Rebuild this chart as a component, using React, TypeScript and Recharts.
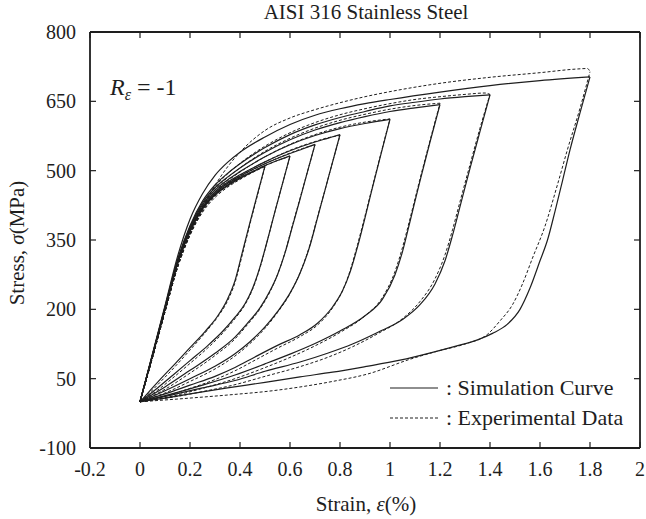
import { LineChart, Line, XAxis, YAxis, ReferenceLine } from 'recharts';

type Pt = [number, number];

// strain (%), stress (MPa)
// upper (loading) branches, simulation
const sim05Up: Pt[] = [[0, 0], [0.05, 100], [0.1, 200], [0.15, 298], [0.2, 368], [0.25, 417], [0.3, 447], [0.35, 467], [0.4, 483], [0.45, 497], [0.5, 510]];
const sim06Up: Pt[] = [[0, 0], [0.05, 100], [0.1, 200], [0.15, 299], [0.2, 369], [0.25, 418], [0.3, 449], [0.35, 469], [0.4, 485], [0.45, 498], [0.5, 511], [0.55, 522], [0.6, 532]];
const sim07Up: Pt[] = [[0, 0], [0.05, 100], [0.1, 201], [0.15, 300], [0.2, 370], [0.25, 420], [0.3, 451], [0.35, 472], [0.4, 488], [0.5, 515], [0.6, 537], [0.65, 547], [0.7, 557]];
const sim08Up: Pt[] = [[0, 0], [0.05, 101], [0.1, 202], [0.15, 301], [0.2, 372], [0.25, 422], [0.3, 454], [0.35, 475], [0.4, 491], [0.5, 519], [0.6, 543], [0.7, 562], [0.75, 570], [0.8, 578]];
const sim10Up: Pt[] = [[0, 0], [0.05, 101], [0.1, 203], [0.15, 303], [0.2, 375], [0.25, 426], [0.3, 458], [0.35, 480], [0.4, 498], [0.5, 530], [0.6, 556], [0.7, 576], [0.8, 591], [0.9, 602], [1.0, 611]];
const sim12Up: Pt[] = [[0, 0], [0.05, 102], [0.1, 204], [0.15, 305], [0.2, 378], [0.25, 430], [0.3, 463], [0.35, 486], [0.4, 506], [0.5, 540], [0.6, 567], [0.7, 588], [0.8, 604], [0.9, 617], [1.0, 628], [1.1, 636], [1.2, 643]];
const sim14Up: Pt[] = [[0, 0], [0.05, 102], [0.1, 205], [0.15, 307], [0.2, 381], [0.25, 434], [0.3, 469], [0.35, 494], [0.4, 515], [0.5, 550], [0.6, 578], [0.7, 599], [0.8, 615], [0.9, 628], [1.0, 640], [1.1, 648], [1.2, 655], [1.3, 660], [1.4, 664]];
const sim18Up: Pt[] = [[0, 0], [0.05, 104], [0.1, 208], [0.15, 314], [0.2, 395], [0.25, 450], [0.3, 490], [0.35, 518], [0.4, 540], [0.5, 573], [0.6, 600], [0.7, 620], [0.8, 634], [0.9, 645], [1.0, 654], [1.2, 670], [1.4, 684], [1.6, 695], [1.8, 703]];

// lower (unloading) branches, simulation, listed from origin to peak
const sim05Dn: Pt[] = [[0, 0], [0.04, 24], [0.08, 48], [0.14, 82], [0.2, 117], [0.26, 152], [0.31, 185], [0.35, 222], [0.38, 262], [0.41, 325], [0.44, 388], [0.47, 450], [0.5, 510]];
const sim06Dn: Pt[] = [[0, 0], [0.07, 30], [0.13, 57], [0.2, 89], [0.27, 121], [0.33, 152], [0.38, 183], [0.42, 212], [0.45, 245], [0.48, 292], [0.51, 350], [0.54, 412], [0.57, 472], [0.6, 532]];
const sim07Dn: Pt[] = [[0, 0], [0.1, 32], [0.2, 68], [0.3, 105], [0.38, 140], [0.43, 170], [0.48, 203], [0.52, 240], [0.55, 275], [0.58, 322], [0.61, 380], [0.64, 438], [0.67, 498], [0.7, 557]];
const sim08Dn: Pt[] = [[0, 0], [0.1, 24], [0.2, 50], [0.3, 77], [0.38, 104], [0.44, 130], [0.5, 162], [0.55, 195], [0.6, 235], [0.64, 278], [0.68, 338], [0.71, 398], [0.74, 458], [0.77, 518], [0.8, 578]];
const sim10Dn: Pt[] = [[0, 0], [0.1, 17], [0.2, 36], [0.3, 55], [0.38, 74], [0.46, 97], [0.55, 122], [0.64, 145], [0.71, 170], [0.77, 205], [0.81, 240], [0.84, 280], [0.87, 335], [0.9, 398], [0.93, 464], [0.965, 538], [1.0, 611]];
const sim12Dn: Pt[] = [[0, 0], [0.12, 16], [0.25, 36], [0.38, 58], [0.5, 82], [0.6, 103], [0.7, 126], [0.8, 153], [0.9, 186], [0.97, 222], [1.02, 275], [1.05, 325], [1.08, 390], [1.12, 478], [1.16, 562], [1.2, 643]];
const sim14Dn: Pt[] = [[0, 0], [0.12, 14], [0.25, 30], [0.38, 46], [0.5, 66], [0.64, 86], [0.75, 105], [0.85, 125], [0.95, 150], [1.05, 178], [1.12, 210], [1.18, 255], [1.22, 305], [1.25, 360], [1.28, 422], [1.32, 505], [1.36, 585], [1.4, 664]];
const sim18Dn: Pt[] = [[0, 0], [0.1, 8], [0.2, 17], [0.35, 30], [0.5, 42], [0.64, 54], [0.77, 64], [0.9, 76], [1.04, 90], [1.17, 107], [1.26, 120], [1.35, 134], [1.41, 148], [1.47, 168], [1.52, 200], [1.56, 246], [1.6, 305], [1.63, 350], [1.66, 412], [1.69, 478], [1.72, 545], [1.76, 625], [1.8, 703]];

// experimental data
const exp05Up: Pt[] = [[0, 0], [0.05, 96], [0.1, 195], [0.15, 290], [0.2, 360], [0.25, 410], [0.3, 442], [0.35, 464], [0.4, 481], [0.45, 496], [0.5, 509]];
const exp06Up: Pt[] = [[0, 0], [0.05, 96], [0.1, 195], [0.15, 291], [0.2, 361], [0.25, 412], [0.3, 445], [0.35, 467], [0.4, 484], [0.45, 498], [0.5, 511], [0.55, 522], [0.6, 531]];
const exp07Up: Pt[] = [[0, 0], [0.05, 97], [0.1, 196], [0.15, 292], [0.2, 363], [0.25, 414], [0.3, 447], [0.35, 470], [0.4, 487], [0.5, 515], [0.6, 538], [0.65, 548], [0.7, 556]];
const exp08Up: Pt[] = [[0, 0], [0.05, 97], [0.1, 196], [0.15, 293], [0.2, 364], [0.25, 416], [0.3, 450], [0.35, 473], [0.4, 490], [0.5, 519], [0.6, 544], [0.7, 563], [0.75, 571], [0.8, 576]];
const exp10Up: Pt[] = [[0, 0], [0.05, 97], [0.1, 197], [0.15, 294], [0.2, 366], [0.25, 419], [0.3, 454], [0.35, 478], [0.4, 497], [0.5, 530], [0.6, 557], [0.7, 578], [0.8, 594], [0.9, 605], [1.0, 612]];
const exp12Up: Pt[] = [[0, 0], [0.05, 97], [0.1, 197], [0.15, 295], [0.2, 368], [0.25, 422], [0.3, 459], [0.35, 485], [0.4, 506], [0.5, 542], [0.6, 570], [0.7, 592], [0.8, 609], [0.9, 622], [1.0, 633], [1.1, 641], [1.2, 646]];
const exp14Up: Pt[] = [[0, 0], [0.05, 97], [0.1, 198], [0.15, 296], [0.2, 370], [0.25, 426], [0.3, 465], [0.35, 493], [0.4, 516], [0.5, 553], [0.6, 582], [0.7, 604], [0.8, 621], [0.9, 634], [1.0, 645], [1.1, 654], [1.2, 660], [1.3, 665], [1.38, 668], [1.4, 665]];
const exp18Up: Pt[] = [[0, 0], [0.05, 95], [0.1, 194], [0.15, 290], [0.2, 362], [0.25, 420], [0.3, 468], [0.35, 508], [0.4, 540], [0.5, 587], [0.6, 614], [0.7, 632], [0.8, 647], [0.9, 660], [1.0, 671], [1.2, 689], [1.4, 702], [1.6, 712], [1.75, 720], [1.79, 721], [1.8, 714]];

const exp05Dn: Pt[] = [[0, 0], [0.04, 20], [0.08, 42], [0.14, 76], [0.2, 112], [0.26, 149], [0.31, 183], [0.35, 218], [0.38, 258], [0.41, 320], [0.44, 385], [0.47, 447], [0.5, 509]];
const exp06Dn: Pt[] = [[0, 0], [0.07, 25], [0.13, 51], [0.2, 83], [0.27, 116], [0.33, 148], [0.38, 180], [0.42, 210], [0.45, 243], [0.48, 290], [0.51, 350], [0.54, 412], [0.57, 472], [0.6, 531]];
const exp07Dn: Pt[] = [[0, 0], [0.1, 27], [0.2, 62], [0.3, 100], [0.38, 136], [0.43, 167], [0.48, 201], [0.52, 238], [0.55, 275], [0.58, 323], [0.61, 382], [0.64, 440], [0.67, 498], [0.7, 556]];
const exp08Dn: Pt[] = [[0, 0], [0.1, 19], [0.2, 44], [0.3, 71], [0.38, 99], [0.44, 126], [0.5, 159], [0.55, 193], [0.6, 234], [0.64, 279], [0.68, 340], [0.71, 400], [0.74, 458], [0.77, 518], [0.8, 576]];
const exp10Dn: Pt[] = [[0, 0], [0.1, 12], [0.2, 29], [0.3, 48], [0.38, 67], [0.46, 90], [0.55, 116], [0.64, 141], [0.71, 166], [0.77, 203], [0.81, 240], [0.84, 283], [0.87, 340], [0.9, 402], [0.93, 466], [0.965, 540], [1.0, 612]];
const exp12Dn: Pt[] = [[0, 0], [0.12, 11], [0.25, 29], [0.38, 50], [0.5, 74], [0.6, 96], [0.7, 121], [0.8, 150], [0.9, 186], [0.97, 226], [1.02, 282], [1.05, 334], [1.08, 396], [1.12, 482], [1.16, 565], [1.2, 646]];
const exp14Dn: Pt[] = [[0, 0], [0.12, 9], [0.25, 22], [0.38, 37], [0.5, 55], [0.64, 76], [0.75, 96], [0.85, 119], [0.95, 147], [1.05, 180], [1.12, 217], [1.18, 266], [1.22, 318], [1.25, 372], [1.28, 433], [1.32, 513], [1.36, 592], [1.4, 665]];
const exp18Dn: Pt[] = [[0, 0], [0.2, 8], [0.38, 16], [0.5, 22], [0.64, 32], [0.78, 45], [0.91, 60], [1.08, 92], [1.2, 111], [1.3, 125], [1.39, 146], [1.44, 175], [1.49, 210], [1.53, 255], [1.57, 311], [1.62, 380], [1.67, 470], [1.71, 546], [1.76, 635], [1.8, 714]];

const xTicks = [-0.2, 0, 0.2, 0.4, 0.6, 0.8, 1, 1.2, 1.4, 1.6, 1.8, 2];
const yTicks = [-100, 50, 200, 350, 500, 650, 800];

const simCurves = [sim05Up, sim06Up, sim07Up, sim08Up, sim10Up, sim12Up, sim14Up, sim18Up, sim05Dn, sim06Dn, sim07Dn, sim08Dn, sim10Dn, sim12Dn, sim14Dn, sim18Dn];
const expCurves = [exp05Up, exp06Up, exp07Up, exp08Up, exp10Up, exp12Up, exp14Up, exp18Up, exp05Dn, exp06Dn, exp07Dn, exp08Dn, exp10Dn, exp12Dn, exp14Dn, exp18Dn];

const toRows = (pts: Pt[]) => pts.map(([e, s]) => ({ e, s }));

const W = 646;
const H = 519;
const PLOT = { left: 90, right: 640, top: 32, bottom: 448 };
const INK = '#1e1e1e';
const serif = { fontFamily: "'Liberation Serif', 'DejaVu Serif', serif" };

// eslint-disable-next-line @typescript-eslint/no-explicit-any
function XTick({ x, payload }: any) {
  return (
    <g>
      <line x1={x} y1={PLOT.bottom} x2={x} y2={PLOT.bottom - 6} stroke={INK} strokeWidth={1.2} />
      <line x1={x} y1={PLOT.top} x2={x} y2={PLOT.top + 6} stroke={INK} strokeWidth={1.2} />
      <text x={x} y={PLOT.bottom + 28} textAnchor="middle" fontSize={20} style={serif} fill={INK}>
        {String(payload.value)}
      </text>
    </g>
  );
}

// eslint-disable-next-line @typescript-eslint/no-explicit-any
function YTick({ y, payload }: any) {
  return (
    <g>
      <line x1={PLOT.left} y1={y} x2={PLOT.left + 6} y2={y} stroke={INK} strokeWidth={1.2} />
      <line x1={PLOT.right} y1={y} x2={PLOT.right - 6} y2={y} stroke={INK} strokeWidth={1.2} />
      <text x={PLOT.left - 14} y={y + 7} textAnchor="end" fontSize={20} style={serif} fill={INK}>
        {String(payload.value)}
      </text>
    </g>
  );
}

export default function App() {
  return (
    <div style={{ position: 'absolute', left: 0, top: 0, width: W, height: H, background: '#fff', ...serif }}>
      <LineChart
        width={W}
        height={H}
        margin={{ top: PLOT.top, right: W - PLOT.right, bottom: 0, left: 0 }}
      >
        <XAxis
          dataKey="e"
          type="number"
          domain={[-0.2, 2]}
          ticks={xTicks}
          interval={0}
          allowDataOverflow
          height={H - PLOT.bottom}
          tickLine={false}
          tickSize={0}
          tickMargin={0}
          tick={<XTick />}
          axisLine={{ stroke: INK, strokeWidth: 1.8 }}
        />
        <YAxis
          type="number"
          domain={[-100, 800]}
          ticks={yTicks}
          interval={0}
          allowDataOverflow
          width={PLOT.left}
          tickLine={false}
          tickSize={0}
          tickMargin={0}
          tick={<YTick />}
          axisLine={{ stroke: INK, strokeWidth: 1.8 }}
        />
        <ReferenceLine y={800} stroke={INK} strokeWidth={1.8} />
        <ReferenceLine x={2} stroke={INK} strokeWidth={1.8} />
        {expCurves.map((c, i) => (
          <Line
            key={`exp${i}`}
            data={toRows(c)}
            dataKey="s"
            type="monotone"
            stroke={INK}
            strokeWidth={1}
            strokeDasharray="3 2"
            dot={false}
            activeDot={false}
            isAnimationActive={false}
          />
        ))}
        {simCurves.map((c, i) => (
          <Line
            key={`sim${i}`}
            data={toRows(c)}
            dataKey="s"
            type="monotone"
            stroke={INK}
            strokeWidth={1.2}
            dot={false}
            activeDot={false}
            isAnimationActive={false}
          />
        ))}
      </LineChart>

      {/* title, axis labels, annotation and legend */}
      <svg
        width={W}
        height={H}
        style={{ position: 'absolute', left: 0, top: 0, pointerEvents: 'none', ...serif }}
        fill={INK}
      >
        <text x={366} y={19} textAnchor="middle" fontSize={21}>AISI 316 Stainless Steel</text>
        <text x={366} y={511} textAnchor="middle" fontSize={21}>
          Strain, <tspan fontStyle="italic">ε</tspan>(%)
        </text>
        <text transform="translate(24,243) rotate(-90)" textAnchor="middle" fontSize={21}>
          Stress, <tspan fontStyle="italic">σ</tspan>(MPa)
        </text>
        <text x={110} y={95} fontSize={24}>
          <tspan fontStyle="italic">R</tspan>
          <tspan fontStyle="italic" fontSize={16} dy={5}>ε</tspan>
          <tspan dy={-5}> = -1</tspan>
        </text>

        <line x1={390} y1={388} x2={438} y2={388} stroke={INK} strokeWidth={1.2} />
        <text x={446} y={395} fontSize={22}>: Simulation Curve</text>
        <line x1={390} y1={418} x2={440} y2={418} stroke={INK} strokeWidth={1} strokeDasharray="3 2" />
        <text x={446} y={425} fontSize={22}>: Experimental Data</text>
      </svg>
    </div>
  );
}
